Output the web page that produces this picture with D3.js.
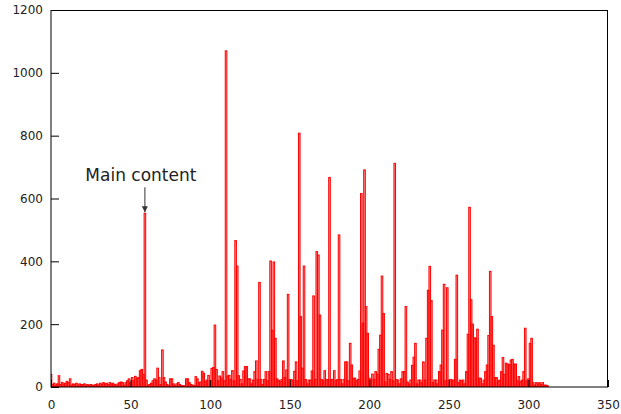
<!DOCTYPE html>
<html>
<head>
<meta charset="utf-8">
<script src="https://cdn.jsdelivr.net/npm/d3@7"></script>
<style>
  body { margin: 0; background: #fff; }
  svg { display: block; font-family: 'DejaVu Sans', sans-serif; }
</style>
</head>
<body>
<svg id="chart" width="621" height="414"></svg>
<script>
// Counts per position (index = x position).
var counts = [
  40, 8, 12, 6, 10, 36, 8, 15, 10, 12,
  18, 14, 26, 6, 10, 8, 12, 6, 10, 8,
  8, 10, 6, 8, 5, 8, 6, 5, 8, 10,
  6, 12, 8, 14, 10, 12, 8, 14, 10, 12,
  8, 6, 10, 14, 16, 14, 6, 14, 20, 26,
  14, 30, 20, 34, 28, 30, 52, 56, 40, 553,
  22, 6, 8, 12, 20, 26, 22, 60, 30, 8,
  118, 30, 16, 8, 4, 26, 26, 10, 4, 10,
  14, 8, 4, 4, 4, 26, 26, 14, 8, 6,
  4, 33, 26, 14, 16, 50, 44, 18, 22, 37,
  20, 59, 62, 197, 56, 20, 35, 28, 49, 20,
  1070, 35, 37, 24, 52, 20, 466, 385, 36, 24,
  10, 51, 65, 65, 26, 26, 10, 22, 49, 83,
  24, 333, 24, 8, 24, 49, 20, 49, 401, 180,
  398, 155, 26, 22, 18, 24, 83, 30, 54, 295,
  24, 24, 20, 50, 80, 20, 808, 224, 60, 385,
  24, 10, 22, 22, 51, 290, 24, 431, 420, 229,
  24, 20, 52, 24, 24, 667, 24, 24, 52, 20,
  24, 484, 24, 10, 24, 80, 80, 20, 139, 70,
  28, 28, 20, 24, 51, 616, 203, 691, 256, 171,
  28, 24, 41, 24, 49, 41, 120, 165, 353, 234,
  16, 43, 40, 24, 49, 20, 712, 24, 22, 10,
  26, 49, 49, 256, 16, 10, 22, 69, 95, 139,
  10, 22, 22, 14, 80, 22, 155, 308, 384, 275,
  14, 22, 22, 10, 49, 70, 181, 327, 20, 316,
  22, 24, 22, 22, 88, 356, 14, 22, 20, 22,
  10, 49, 168, 572, 278, 200, 157, 155, 184, 28,
  28, 10, 22, 49, 70, 164, 368, 224, 133, 30,
  30, 20, 22, 49, 94, 40, 76, 73, 71, 86,
  88, 73, 73, 20, 33, 17, 22, 49, 187, 20,
  26, 139, 155, 14, 6, 14, 10, 14, 8, 14,
  6, 6, 4
];
var xTicks = [0, 50, 100, 150, 200, 250, 300, 350];
var yTicks = [0, 200, 400, 600, 800, 1000, 1200];
var annotation = { label: 'Main content', index: 59 };

var margin = { left: 51, right: 13, top: 10, bottom: 27 };
var width = 621, height = 414;

var svg = d3.select('#chart');

var x = d3.scaleLinear()
    .domain([0, 350])
    .range([margin.left, width - margin.right]);
var y = d3.scaleLinear()
    .domain([0, 1200])
    .range([height - margin.bottom, margin.top]);

svg.append('clipPath')
    .attr('id', 'plot-clip')
  .append('rect')
    .attr('x', x(0))
    .attr('y', y(1200))
    .attr('width', x(350) - x(0))
    .attr('height', y(0) - y(1200));

// Boxes, one unit wide, centred on each position.
var boxWidth = x(1) - x(0);
svg.append('g')
    .attr('clip-path', 'url(#plot-clip)')
  .selectAll('rect')
    .data(counts)
  .enter().append('rect')
    .attr('x', function(d, i) { return x(i - 0.5); })
    .attr('y', function(d) { return y(d); })
    .attr('width', boxWidth)
    .attr('height', function(d) { return y(0) - y(d); })
    .style('fill', 'rgba(255, 0, 0, 0.4)')
    .style('stroke', '#ff0000')
    .style('stroke-width', 1);

// Axes with inward ticks.
var fmt = d3.format('d');
var yAxis = svg.append('g')
    .attr('transform', 'translate(' + x(0) + ',0)')
    .call(d3.axisLeft(y).tickValues(yTicks).tickFormat(fmt)
        .tickSize(-8).tickSizeOuter(0).tickPadding(8));
var xAxis = svg.append('g')
    .attr('transform', 'translate(0,' + y(0) + ')')
    .call(d3.axisBottom(x).tickValues(xTicks).tickFormat(fmt)
        .tickSize(-7).tickSizeOuter(0).tickPadding(13));

[yAxis, xAxis].forEach(function(axis) {
  axis.select('.domain').remove();
  axis.selectAll('line').style('stroke', '#000');
  axis.selectAll('text')
      .style('font-family', "'DejaVu Sans', sans-serif")
      .style('font-size', '12px')
      .style('fill', '#222');
});

// Frame round the plot.
svg.append('rect')
    .attr('x', x(0))
    .attr('y', y(1200) + 0.5)
    .attr('width', x(350) - x(0) - 0.5)
    .attr('height', y(0) - y(1200) - 0.5)
    .style('fill', 'none')
    .style('stroke', '#000')
    .style('stroke-width', 1);

// Annotation with arrow pointing at the main peak.
var peak = counts[annotation.index];
svg.append('defs').append('marker')
    .attr('id', 'arrow')
    .attr('viewBox', '0 0 10 10')
    .attr('refX', 10)
    .attr('refY', 5)
    .attr('markerWidth', 6)
    .attr('markerHeight', 6)
    .attr('orient', 'auto')
  .append('path')
    .attr('d', 'M0,0L10,5L0,10z')
    .style('fill', '#333');

svg.append('line')
    .attr('x1', x(annotation.index))
    .attr('x2', x(annotation.index))
    .attr('y1', y(peak) - 26)
    .attr('y2', y(peak) - 1)
    .attr('marker-end', 'url(#arrow)')
    .style('stroke', '#333')
    .style('stroke-width', 1);

svg.append('text')
    .attr('x', x(annotation.index) - 4)
    .attr('y', y(peak) - 32)
    .attr('text-anchor', 'middle')
    .style('font-family', "'DejaVu Sans', sans-serif")
    .style('font-size', '17px')
    .style('fill', '#222')
    .text(annotation.label);
</script>
</body>
</html>
